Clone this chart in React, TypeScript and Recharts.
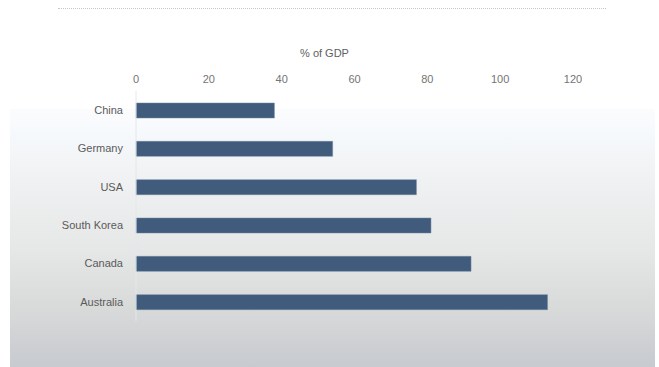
import { BarChart, Bar, XAxis, YAxis, Label } from 'recharts';

const countries = ['China', 'Germany', 'USA', 'South Korea', 'Canada', 'Australia'];
const debtShare = [38, 54, 77, 81, 92, 113];
const xTicks = [0, 20, 40, 60, 80, 100, 120];

const data = countries.map((name, i) => ({ name, value: debtShare[i] }));

const FONT = '"Liberation Sans", Arial, sans-serif';

export default function App() {
  return (
    <div
      style={{
        position: 'absolute',
        left: 0,
        top: 0,
        width: 659,
        height: 367,
        background: '#ffffff',
        overflow: 'hidden',
        fontFamily: FONT,
      }}
    >
      {/* dotted rule at the top */}
      <div
        style={{
          position: 'absolute',
          left: 58,
          top: 8,
          width: 548,
          borderTop: '1px dotted #c4c8cc',
        }}
      />
      {/* gradient panel behind the bars */}
      <div
        style={{
          position: 'absolute',
          left: 10,
          top: 109,
          width: 645,
          height: 258,
          background:
            'linear-gradient(to bottom, #fbfcfe 0px, #f6f9fc 26px, #f1f3f4 60px, #e6e7e7 140px, #d8dada 200px, #c7cacf 258px)',
        }}
      />
      <div style={{ position: 'absolute', left: 0, top: 0 }}>
        <BarChart
          width={659}
          height={367}
          data={data}
          layout="vertical"
          margin={{ top: 71, right: 86, bottom: 46, left: 0 }}
          barCategoryGap={0}
        >
          <XAxis
            type="number"
            orientation="top"
            domain={[0, 120]}
            ticks={xTicks}
            height={20}
            stroke="#777777"
            axisLine={false}
            tickLine={false}
            tick={{ fill: '#747474', stroke: 'none', fontSize: 11, fontFamily: FONT }}
          >
            <Label
              value="% of GDP"
              position="top"
              offset={14}
              dx={-30}
              style={{ fill: '#606060', fontSize: 11, fontFamily: FONT }}
            />
          </XAxis>
          <YAxis
            type="category"
            dataKey="name"
            width={136}
            stroke="#e4e8ec"
            axisLine={{ stroke: '#e4e8ec' }}
            tickLine={false}
            tickMargin={7}
            tick={{ fill: '#5a5a5a', stroke: 'none', fontSize: 11, fontFamily: FONT }}
          />
          <Bar
            dataKey="value"
            fill="#405b7b"
            stroke="#6f86a0"
            strokeWidth={0.5}
            barSize={15}
            isAnimationActive={false}
          />
        </BarChart>
      </div>
    </div>
  );
}
